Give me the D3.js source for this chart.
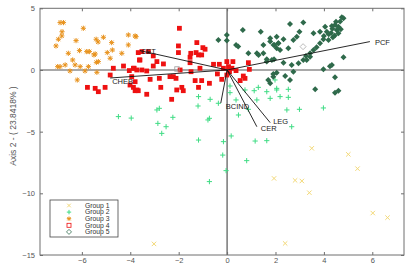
<!DOCTYPE html>
<html>
<head>
<meta charset="utf-8">
<script src="https://cdn.jsdelivr.net/npm/d3@7"></script>
<style>
  body { margin: 0; background: #fff; }
  text { font-family: "Liberation Sans", Arial, sans-serif; }
</style>
</head>
<body>
<div id="chart"></div>
<script>
// data
var group1 = [[3.5,-6.35],[5.01,-6.84],[5.39,-8.0],[1.94,-8.79],[2.81,-8.95],[3.09,-9.0],[3.4,-9.95],[6.02,-11.6],[6.63,-11.97],[2.4,-14.06],[-3.02,-14.1]];

var group2 = [[-2.86,-4.33],[-2.52,-4.6],[-2.7,-5.14],[-1.18,-5.68],[-0.15,-5.81],[0.17,-5.35],[1.16,-5.76],[1.64,-5.73],[-0.18,-6.9],[0.81,-7.35],[-0.04,-8.16],[-0.73,-9.05],[-0.79,-4.05],
  [-1.18,-2.16],[-0.7,-2.38],[0.12,-1.3],[0.12,-1.84],[0.37,-2.43],[0.74,-1.62],[1.12,-1.68],[1.29,-1.41],[1.64,-1.76],[2.05,-1.49],[0.47,-3.65],[0.88,-3.19],[-0.73,-3.92],[-2.24,-3.84],[-2.8,-3.11],[-1.2,-2.92],[1.23,-2.43],[1.78,-2.3],
  [2.05,-1.62],[2.53,-1.57],[2.19,-2.16],[2.53,-2.22],[2.47,-3.24],[2.99,-3.19],[3.98,-3.08],[1.98,-0.81],[2.67,-4.6],[-4.49,-3.78],[-3.96,-3.9],[-2.9,-3.24],[-0.36,-2.7]];

var group3 = [[-6.9,3.84],[-6.76,3.84],[-6.82,3.1],[-6.83,2.76],[-6.97,2.49],[-7.07,1.95],[-5.94,3.38],[-6.24,2.38],[-6.56,1.35],[-6.38,0.81],[-6.1,1.57],[-5.8,1.49],[-5.69,1.49],[-5.45,1.3],[-5.5,1.22],
  [-5.32,0.68],[-5.4,0.62],[-5.41,2.49],[-5.33,2.27],[-5.11,2.65],[-4.77,2.22],[-4.95,1.41],[-4.74,1.62],[-4.83,0.95],[-4.35,1.35],[-4.08,2.84],[-4.08,2.03],[-3.8,2.76],[-3.76,2.7],
  [-7.0,0.27],[-6.9,0.27],[-6.69,0.41],[-6.49,-0.08],[-6.28,0.41],[-6.07,0.27],[-5.87,-0.08],[-5.73,0.27],[-6.19,-0.81],[-5.38,-0.19]];

var group4 = [[-4.7,0.14],[-4.83,-0.41],[-4.28,0.32],[-4.04,-0.05],[-3.84,0.14],[-3.67,1.41],[-3.62,0.81],[-3.94,-0.54],[-4.01,-1.22],[-3.8,-1.68],[-3.72,-1.62],[-5.77,-1.41],[-5.45,-1.49],[-5.32,-1.76],[-5.04,-1.41],
  [-1.97,3.38],[-2.01,1.95],[-1.25,2.22],[-1.0,1.81],[-0.91,1.68],[-1.28,1.41],[-1.5,1.35],[-2.01,1.41],[-1.18,1.22],[-1.05,1.22],[-1.53,1.03],[-3.52,1.49],[-3.25,1.49],[-3.05,1.14],[-3.6,0.81],[-2.9,0.68],[-2.63,0.49],
  [-3.87,0.14],[-3.73,0],[-3.52,0],[-3.32,-0.08],[-3.05,0.32],[-1.53,0.59],[-1.49,-0.14],[-1.12,0.14],[-1.94,0],[-2.36,-0.54],[-2.22,-0.54],[-2.11,-0.68],[-3.18,-0.76],[-3.8,-0.95],[-3.87,-1.41],[-3.67,-1.68],[-3.32,-1.97],
  [-2.74,-1.41],[-2.29,-2.38],[-2.08,-1.62],[-1.87,-1.41],[-1.81,-1.68],[-1.32,-0.86],[-1.05,-0.86],[-0.73,-1.08],[-1.18,-1.41],[-0.56,0.46],[-0.32,0.46],[-0.01,0.68],[0.24,0.68],
  [-0.15,0.14],[0.06,0.27],[0.2,0.14],[0.1,-0.14],[-0.4,-0.32],[-0.22,-0.76],[-0.01,-0.41],[0.37,-0.05],[0.88,0.59],[0.92,0.05],[0.67,-0.49],[0.74,-0.68],[0.54,-0.86],[-2.8,-0.68]];

var group5 = [[-0.01,2.84],[-0.36,2.43],[-0.01,2.38],[0.37,2.03],[0.46,1.9],[0.65,3.24],[0.88,1.35],[1.39,3.1],[1.23,1.35],[1.3,1.22],[1.5,1.35],[1.64,0.68],[1.78,2.57],[1.78,2.3],[1.96,2.03],[2.05,1.76],[2.12,2.16],
  [1.5,2.03],[1.64,0.87],[1.94,0.87],[1.78,-1.08],[1.7,-0.81],[1.91,-0.54],[2.05,-0.22],
  [2.6,3.73],[3.15,3.84],[2.05,2.7],[2.33,2.49],[2.12,2.16],[1.92,2.03],[2.74,2.43],[2.99,3.1],[2.88,2.7],[3.57,2.97],
  [3.84,3.1],[4.05,3.51],[4.12,3.1],[4.33,3.57],[4.46,3.65],[4.53,3.24],[4.6,2.97],[4.67,3.92],[4.74,4.27],[4.81,4.19],[4.37,2.65],[4.19,2.43],[3.98,2.49],[3.84,2.16],[3.7,1.84],[3.57,1.62],[3.43,1.35],[3.26,1.14],[3.15,0.81],
  [4.3,3.0],[4.45,2.8],[4.6,3.5],[4.7,3.3],[4.2,2.9],[4.0,2.75],[4.5,3.9],[4.35,3.35],
  [4.81,1.03],[3.98,0.05],[4.25,0.3],[4.33,0.41],[4.46,-0.59],[3.64,-1.57],[4.46,-1.84],[4.6,-1.68],[2.6,-0.81],[2.4,-0.49],[1.91,-0.32],[2.74,-0.14],
  [2.33,0.59],[2.67,0.41],[2.95,0.54],[3.29,0.81],[3.43,1.08],[2.19,1.62],[2.53,1.76],[1.85,0.81]];

// group centroids shown as open markers
var centroid4 = [[-2.07,0.08]];
var centroid5 = [[3.14,1.89]];

var vectorNames = ["PCF", "CET", "CHEB", "BCIND", "CER", "LEG"];
var vectorX = [5.9, -3.6, -4.83, -0.26, 1.23, 1.78];
var vectorY = [2.3, 1.57, -0.65, -2.68, -4.6, -4.27];

var legendLabels = ["Group 1", "Group 2", "Group 3", "Group 4", "Group 5"];
var xTicks = [-6, -4, -2, 0, 2, 4, 6];
var yTicks = [5, 0, -5, -10, -15];

function draw() {
    var w = 416, h = 265;
    var pLeft = 40, pRight = 404, pTop = 8.3, pBottom = 255;

    var x = d3.scaleLinear().domain([-7.73, 7.31]).range([pLeft, pRight]);
    var y = d3.scaleLinear().domain([-15, 5]).range([pBottom, pTop]);

    var svg = d3.select("#chart").append("svg")
        .attr("width", w)
        .attr("height", h);

    var axisColor = "#6e6e6e";
    var colors = ["#f3d978", "#3fdc84", "#e8921c", "#ee1111", "#2f6a4b"];

    // zero lines
    svg.append("line")
        .attr("x1", pLeft).attr("x2", pRight)
        .attr("y1", y(0)).attr("y2", y(0))
        .attr("stroke", "#555").attr("stroke-width", 1.2);
    svg.append("line")
        .attr("x1", x(0)).attr("x2", x(0))
        .attr("y1", pTop).attr("y2", pBottom)
        .attr("stroke", "#555").attr("stroke-width", 1.2);

    // marker drawers
    function drawX(g, d, s, c) {
        var cx = x(d[0]), cy = y(d[1]);
        g.append("path")
            .attr("d", "M" + (cx - s) + "," + (cy - s) + "L" + (cx + s) + "," + (cy + s) +
                "M" + (cx - s) + "," + (cy + s) + "L" + (cx + s) + "," + (cy - s))
            .attr("stroke", c).attr("stroke-width", 1).attr("fill", "none");
    }
    function drawPlus(g, d, s, c) {
        var cx = x(d[0]), cy = y(d[1]);
        g.append("path")
            .attr("d", "M" + (cx - s) + "," + cy + "h" + (2 * s) +
                "M" + cx + "," + (cy - s) + "v" + (2 * s))
            .attr("stroke", c).attr("stroke-width", 1).attr("fill", "none");
    }
    function drawStar(g, d, s, c) {
        drawPlus(g, d, s, c);
        drawX(g, d, s * 0.75, c);
    }
    function diamond(d, s) {
        var cx = x(d[0]), cy = y(d[1]);
        return "M" + cx + "," + (cy - s) + "L" + (cx + s) + "," + cy + "L" + cx + "," + (cy + s) + "L" + (cx - s) + "," + cy + "Z";
    }

    var pts = svg.append("g");
    group1.forEach(function (d) { drawX(pts, d, 2.2, colors[0]); });
    group2.forEach(function (d) { drawPlus(pts, d, 2.6, colors[1]); });
    group3.forEach(function (d) { drawStar(pts, d, 2.6, colors[2]); });

    pts.selectAll("rect.g4")
        .data(group4)
        .enter()
        .append("rect")
        .attr("class", "g4")
        .attr("x", function (d) { return x(d[0]) - 2.4; })
        .attr("y", function (d) { return y(d[1]) - 2.4; })
        .attr("width", 4.8).attr("height", 4.8)
        .attr("fill", colors[3]);

    pts.selectAll("path.g5")
        .data(group5)
        .enter()
        .append("path")
        .attr("class", "g5")
        .attr("d", function (d) { return diamond(d, 3); })
        .attr("fill", colors[4]);

    // centroids
    pts.selectAll("rect.c4")
        .data(centroid4)
        .enter()
        .append("rect")
        .attr("class", "c4")
        .attr("x", function (d) { return x(d[0]) - 2.2; })
        .attr("y", function (d) { return y(d[1]) - 2.2; })
        .attr("width", 4.4).attr("height", 4.4)
        .attr("fill", "none").attr("stroke", "#999").attr("stroke-width", 0.8);
    pts.selectAll("path.c5")
        .data(centroid5)
        .enter()
        .append("path")
        .attr("class", "c5")
        .attr("d", function (d) { return diamond(d, 3); })
        .attr("fill", "#fff").attr("stroke", "#aaa").attr("stroke-width", 0.8);

    // loading vectors
    var vec = svg.append("g");
    vectorNames.forEach(function (name, i) {
        vec.append("line")
            .attr("x1", x(0)).attr("y1", y(0))
            .attr("x2", x(vectorX[i])).attr("y2", y(vectorY[i]))
            .attr("stroke", "#111").attr("stroke-width", 0.9);
    });
    var labelOffset = {
        PCF: [5, 1], CET: [1, 1], CHEB: [2, 3], BCIND: [5, 3], CER: [4, 2], LEG: [3, -1]
    };
    vectorNames.forEach(function (name, i) {
        vec.append("text")
            .attr("x", x(vectorX[i]) + labelOffset[name][0])
            .attr("y", y(vectorY[i]) + labelOffset[name][1])
            .attr("dy", "0.35em")
            .attr("font-size", 7.5)
            .attr("fill", "#222")
            .text(name);
    });

    // frame
    svg.append("rect")
        .attr("x", pLeft).attr("y", pTop)
        .attr("width", pRight - pLeft).attr("height", pBottom - pTop)
        .attr("fill", "none").attr("stroke", axisColor).attr("stroke-width", 1);

    // axes
    var xAxis = svg.append("g")
        .attr("transform", "translate(0," + pBottom + ")")
        .call(d3.axisBottom(x).tickValues(xTicks).tickSizeInner(-3).tickSizeOuter(0).tickPadding(3));
    var xTop = svg.append("g")
        .attr("transform", "translate(0," + pTop + ")")
        .call(d3.axisTop(x).tickValues(xTicks).tickSizeInner(-3).tickSizeOuter(0).tickFormat(""));
    var yAxis = svg.append("g")
        .attr("transform", "translate(" + pLeft + ",0)")
        .call(d3.axisLeft(y).tickValues(yTicks).tickSizeInner(-3).tickSizeOuter(0).tickPadding(5));
    var yRight = svg.append("g")
        .attr("transform", "translate(" + pRight + ",0)")
        .call(d3.axisRight(y).tickValues(yTicks).tickSizeInner(-3).tickSizeOuter(0).tickFormat(""));

    [xAxis, xTop, yAxis, yRight].forEach(function (a) {
        a.select(".domain").remove();
        a.selectAll("line").attr("stroke", axisColor);
        a.selectAll("text")
            .attr("fill", "#555")
            .style("font-size", "7.5px")
            .style("font-family", "Liberation Sans, Arial, sans-serif");
    });

    svg.append("text")
        .attr("transform", "translate(16,126) rotate(-90)")
        .attr("text-anchor", "middle")
        .attr("font-size", 8.5)
        .attr("fill", "#555")
        .text("Axis 2 - ( 23.8418% )");

    // legend
    var lx = 50, ly0 = 200;
    var lg = svg.append("g").attr("transform", "translate(" + lx + "," + ly0 + ")");
    lg.append("rect")
        .attr("width", 68).attr("height", 37)
        .attr("fill", "#fff").attr("stroke", "#444").attr("stroke-width", 0.8);

    var markerFns = [
        function (g, p) { drawX(g, p, 1.8, colors[0]); },
        function (g, p) { drawPlus(g, p, 2.2, colors[1]); },
        function (g, p) { drawStar(g, p, 2.2, colors[2]); },
        function (g, p) {
            g.append("rect").attr("x", x(p[0]) - 2).attr("y", y(p[1]) - 2)
                .attr("width", 4).attr("height", 4)
                .attr("fill", "none").attr("stroke", colors[3]).attr("stroke-width", 0.8);
        },
        function (g, p) {
            g.append("path").attr("d", diamond(p, 2.5))
                .attr("fill", "none").attr("stroke", colors[4]).attr("stroke-width", 0.8);
        }
    ];
    legendLabels.forEach(function (lab, i) {
        var ly = 5.5 + i * 6.6;
        // legend spot in data units so the marker helpers can be reused
        var p = [x.invert(lx + 19), y.invert(ly0 + ly)];
        markerFns[i](svg, p);
        lg.append("text")
            .attr("x", 35).attr("y", ly)
            .attr("dy", "0.35em")
            .attr("font-size", 6.8)
            .attr("fill", "#333")
            .text(lab);
    });
}

draw();
</script>
</body>
</html>
